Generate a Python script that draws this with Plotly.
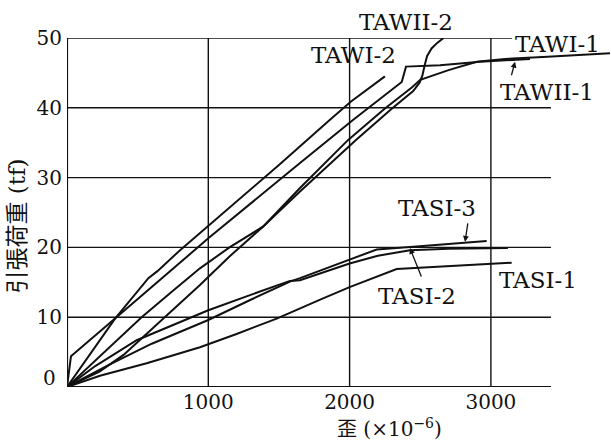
import plotly.graph_objects as go

# Tensile load vs. strain test curves (strain in 1e-6, load in tf)
tawi1_strain = [0, 230, 400, 560, 705, 941, 1150, 1389, 1649, 1990, 2250, 2440, 2500, 2700, 2900, 3100, 3400, 3843]
tawi1_load = [0, 2.2, 4.6, 7.6, 10.2, 14.6, 18.7, 23.0, 28.5, 35.4, 39.9, 42.9, 44.0, 45.4, 46.6, 47.0, 47.3, 47.8]

tawi2_strain = [0, 340, 576, 640, 800, 1000, 1500, 1861, 2010, 2250]
tawi2_load = [0, 9.8, 15.6, 16.6, 19.6, 23.1, 31.8, 38.3, 40.9, 44.5]

tawii1_strain = [0, 28, 340, 906, 1000, 1649, 2026, 2369, 2399, 2640, 2923, 3277]
tawii1_load = [0, 4.4, 9.8, 19.6, 21.3, 32.1, 38.3, 43.7, 45.9, 46.1, 46.6, 47.0]

tawii2_strain = [0, 250, 528, 750, 941, 1150, 1389, 1649, 2045, 2300, 2450, 2495, 2515, 2530, 2548, 2580, 2620, 2665]
tawii2_load = [0, 4.8, 10.0, 13.8, 17.0, 20.0, 23.0, 28.0, 35.4, 39.9, 42.4, 43.6, 44.6, 46.0, 47.4, 48.5, 49.3, 50.0]

tasi1_strain = [0, 233, 564, 941, 1200, 1484, 1800, 2000, 2333, 2600, 3147]
tasi1_load = [0, 1.6, 3.4, 5.7, 7.6, 9.8, 12.6, 14.3, 16.9, 17.2, 17.8]

tasi2_strain = [0, 200, 493, 1000, 1300, 1578, 1649, 2000, 2200, 2427, 2700, 3120]
tasi2_load = [0, 3.0, 6.7, 11.0, 13.2, 15.2, 15.3, 17.7, 18.8, 19.6, 19.8, 19.9]

tasi3_strain = [0, 300, 600, 1000, 1300, 1578, 1649, 2000, 2192, 2451, 2805, 2970]
tasi3_load = [0, 3.2, 6.2, 9.6, 12.5, 15.1, 15.6, 18.2, 19.7, 20.1, 20.7, 20.9]

x_ticks = [1000, 2000, 3000]
y_ticks = [10, 20, 30, 40, 50]

series = [
    ("TAWI-1", tawi1_strain, tawi1_load),
    ("TAWI-2", tawi2_strain, tawi2_load),
    ("TAWII-1", tawii1_strain, tawii1_load),
    ("TAWII-2", tawii2_strain, tawii2_load),
    ("TASI-1", tasi1_strain, tasi1_load),
    ("TASI-2", tasi2_strain, tasi2_load),
    ("TASI-3", tasi3_strain, tasi3_load),
]

SERIF = "DejaVu Serif"
CJK = "DejaVu Serif, Noto Sans CJK JP"
INK = "#111111"
LABEL_SIZE = 23

fig = go.Figure()
for name, xs, ys in series:
    fig.add_trace(go.Scatter(
        x=xs, y=ys, mode="lines", name=name,
        line=dict(color=INK, width=2), cliponaxis=False, showlegend=False,
    ))

# grid and frame
X_END = 3425
shapes = []
for v in y_ticks[:-1]:
    shapes.append(dict(type="line", xref="x", yref="y", x0=0, x1=X_END, y0=v, y1=v,
                       line=dict(color=INK, width=1.4), layer="below"))
shapes.append(dict(type="line", xref="x", yref="y", x0=0, x1=3150, y0=50, y1=50,
                   line=dict(color=INK, width=1.6), layer="below"))
for v in x_ticks:
    shapes.append(dict(type="line", xref="x", yref="y", x0=v, x1=v, y0=0, y1=50,
                       line=dict(color=INK, width=1.4), layer="below"))
shapes.append(dict(type="line", xref="x", yref="y", x0=0, x1=X_END, y0=0, y1=0,
                   line=dict(color=INK, width=2.2), layer="below"))
shapes.append(dict(type="line", xref="x", yref="y", x0=0, x1=0, y0=0, y1=50,
                   line=dict(color=INK, width=2.2), layer="below"))

annotations = []
labels = [
    ("TAWI-2", 2031, 47.6),
    ("TAWI-1", 3468, 49.1),
    ("TAWII-1", 3397, 42.3),
    ("TASI-3", 2619, 25.6),
    ("TASI-2", 2477, 13.0),
    ("TASI-1", 3333, 15.3),
]
for text, x, y in labels:
    annotations.append(dict(text=text, x=x, y=y, xref="x", yref="y", showarrow=False,
                            font=dict(family=SERIF, size=LABEL_SIZE, color=INK)))
annotations.append(dict(text="TAWII-2", x=0.623, y=1.046, xref="paper", yref="paper",
                        xanchor="center", yanchor="middle",
                        showarrow=False, font=dict(family=SERIF, size=LABEL_SIZE, color=INK)))

# pointer arrows from labels to curves
for x, y, ax, ay in [(3171, 46.6, -4, 15), (2817, 20.8, 3, -20), (2427, 19.9, 12, 30)]:
    annotations.append(dict(text="", x=x, y=y, xref="x", yref="y", showarrow=True,
                            ax=ax, ay=ay, arrowhead=2, arrowsize=0.9, arrowwidth=1.3,
                            arrowcolor=INK))

annotations.append(dict(text="0", x=0, y=1.3, xref="x", yref="y", xanchor="right",
                        xshift=-9, showarrow=False, font=dict(family=SERIF, size=20, color=INK)))
annotations.append(dict(text="歪 (×10<sup>−6</sup>)", x=0.592, y=-0.117, xref="paper", yref="paper",
                        xanchor="center", yanchor="middle",
                        showarrow=False, font=dict(family=CJK, size=20, color=INK)))
annotations.append(dict(text="引張荷重 (tf)", x=-0.091, y=0.461, xref="paper", yref="paper",
                        xanchor="center", yanchor="middle",
                        textangle=-90, showarrow=False, font=dict(family=CJK, size=23, color=INK)))

fig.update_layout(
    width=611, height=441,
    margin=dict(l=67, r=0, t=38, b=54),
    paper_bgcolor="white", plot_bgcolor="white",
    shapes=shapes, annotations=annotations,
    xaxis=dict(range=[0, 3850], showgrid=False, zeroline=False, showline=False,
               tickvals=x_ticks, ticktext=[str(v) for v in x_ticks], ticks="",
               ticklabelstandoff=1, tickfont=dict(family=SERIF, size=20, color=INK)),
    yaxis=dict(range=[0, 50], showgrid=False, zeroline=False, showline=False,
               tickvals=y_ticks, ticktext=[str(v) for v in y_ticks], ticks="",
               ticklabelstandoff=4, tickfont=dict(family=SERIF, size=20, color=INK)),
)

fig.write_html("out.html")
